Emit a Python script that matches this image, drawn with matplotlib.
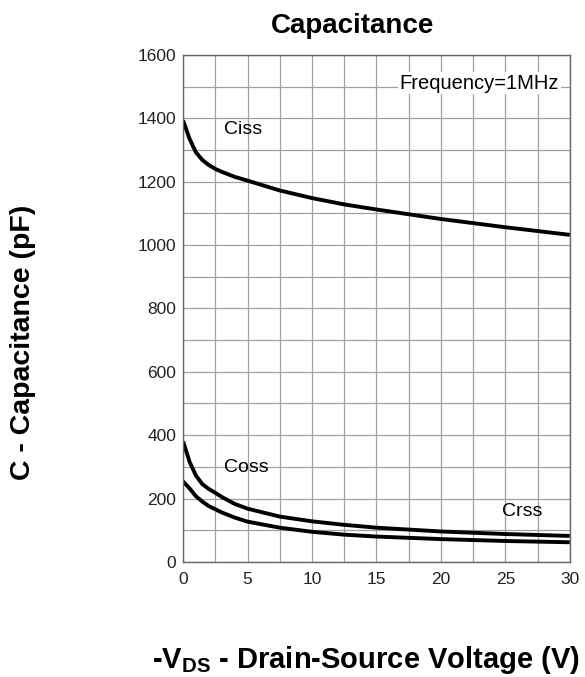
import matplotlib
matplotlib.use('Agg')
import matplotlib.pyplot as plt
import numpy as np

plt.rcParams['font.family'] = ['Liberation Sans', 'DejaVu Sans']

# values
vds = [0, 0.5, 1, 1.5, 2, 2.5, 3, 4, 5, 7.5, 10, 12.5, 15, 20, 25, 30]
ciss = [1393, 1335, 1292, 1268, 1252, 1240, 1231, 1215, 1203, 1172, 1148, 1128, 1112, 1082, 1056, 1032]
coss = [380, 316, 272, 245, 230, 218, 205, 183, 168, 143, 128, 117, 108, 96, 88, 82]
crss = [254, 232, 207, 190, 176, 166, 156, 140, 127, 108, 95, 86, 80, 72, 66, 62]

fig = plt.figure(figsize=(5.85, 6.77), dpi=100)
ax = fig.add_axes([0.313, 0.170, 0.661, 0.749])

for c in (ciss, coss, crss):
    ax.plot(vds, c, color='black', lw=2.8, solid_joinstyle='round', solid_capstyle='butt')

ax.set_xlim(0, 30)
ax.set_ylim(0, 1600)
ax.set_xticks(np.arange(0, 31, 5))
ax.set_xticks(np.arange(0, 31, 2.5), minor=True)
ax.set_yticks(np.arange(0, 1601, 200))
ax.set_yticks(np.arange(0, 1601, 100), minor=True)
ax.grid(which='both', color='#a0a0a0', lw=0.9)
ax.set_axisbelow(True)
ax.tick_params(which='both', length=0, labelsize=12.5, labelcolor='#222222')
ax.tick_params(axis='x', pad=7)
ax.tick_params(axis='y', pad=5)
for s in ax.spines.values():
    s.set_color('#666666')
    s.set_linewidth(1)

ax.text(4.65, 1363, 'Ciss', fontsize=14, ha='center', va='center')
ax.text(4.9, 297, 'Coss', fontsize=14, ha='center', va='center')
ax.text(26.3, 158, 'Crss', fontsize=14, ha='center', va='center')
ax.text(23.0, 1511, 'Frequency=1MHz', fontsize=14.5, ha='center', va='center',
        bbox=dict(facecolor='white', edgecolor='none', pad=1))

fig.text(0.602, 0.962, 'Capacitance', fontsize=20, fontweight='bold', ha='center', va='center')
fig.text(0.04, 0.495, 'C - Capacitance (pF)', fontsize=20.5, fontweight='bold',
         rotation=90, ha='center', va='center')
fig.text(0.626, 0.025, '-V$_{\\mathregular{DS}}$ - Drain-Source Voltage (V)', fontsize=21,
         fontweight='bold', ha='center', va='center')

plt.savefig('out.png', dpi=100)
